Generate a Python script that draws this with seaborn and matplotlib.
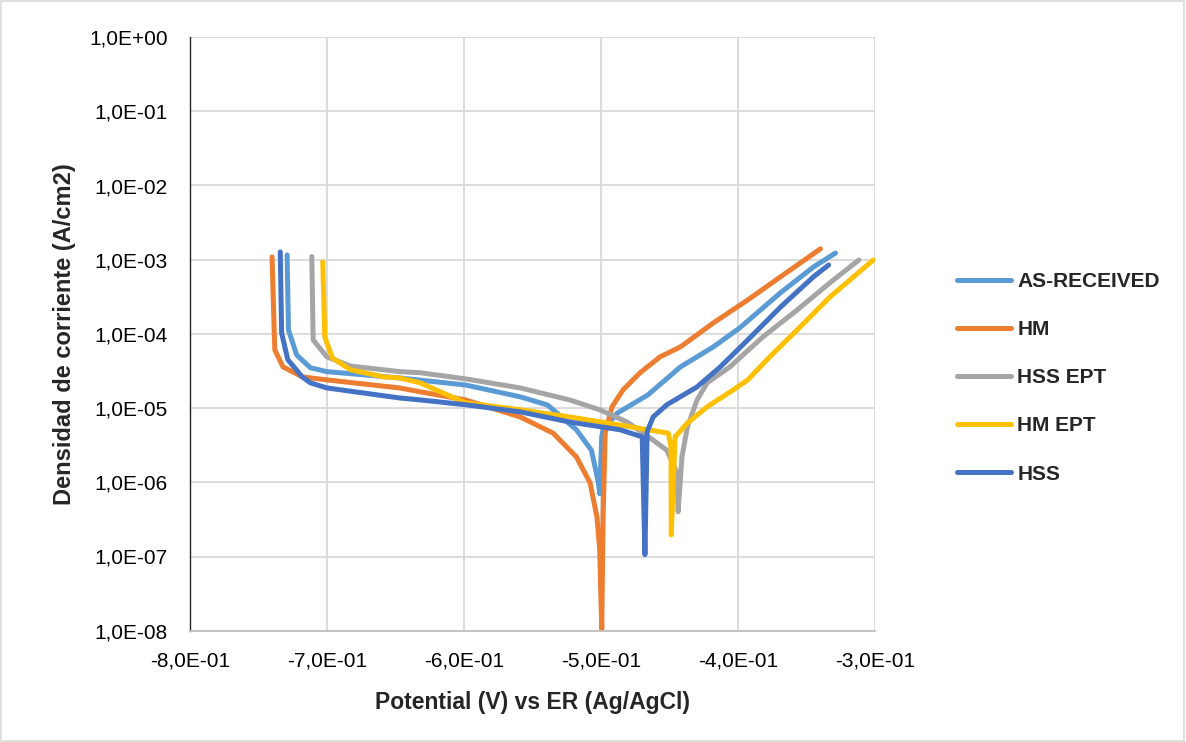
import matplotlib
matplotlib.use("Agg")
import matplotlib.pyplot as plt
from matplotlib.ticker import FuncFormatter, FixedLocator
from matplotlib.patches import Rectangle
import numpy as np
import pandas as pd
import seaborn as sns

sns.set_style("white")
plt.rcParams['font.family'] = ['Liberation Sans', 'DejaVu Sans']

series_names = ["AS-RECEIVED", "HM", "HSS EPT", "HM EPT", "HSS"]
colors = ["#5B9BD5", "#ED7D31", "#A5A5A5", "#FFC000", "#4472C4"]

# potential (V) and current density (A/cm2)
asr_v = [-0.729, -0.728, -0.722, -0.712, -0.700, -0.647, -0.599, -0.559, -0.539, -0.518,
         -0.507, -0.502, -0.501, -0.4995, -0.4985, -0.488, -0.466, -0.442, -0.418, -0.399,
         -0.369, -0.345, -0.329]
asr_i = [1.16e-3, 1.13e-4, 5.2e-5, 3.5e-5, 3.1e-5, 2.55e-5, 2.05e-5, 1.42e-5, 1.1e-5, 5.1e-6,
         2.7e-6, 1.0e-6, 7e-7, 4.1e-6, 5.1e-6, 8.6e-6, 1.5e-5, 3.6e-5, 6.7e-5, 1.2e-4,
         3.6e-4, 8.0e-4, 1.23e-3]

hm_v = [-0.740, -0.738, -0.732, -0.718, -0.700, -0.647, -0.632, -0.599, -0.559, -0.535,
        -0.518, -0.508, -0.503, -0.501, -0.4995, -0.4985, -0.497, -0.492, -0.484, -0.4715,
        -0.457, -0.442, -0.418, -0.393, -0.369, -0.340]
hm_i = [1.09e-3, 6.1e-5, 3.6e-5, 2.64e-5, 2.4e-5, 1.87e-5, 1.66e-5, 1.29e-5, 7.6e-6, 4.6e-6,
        2.2e-6, 9.8e-7, 3.4e-7, 1.23e-7, 1.05e-8, 3.4e-7, 4.6e-6, 1.04e-5, 1.76e-5, 3.0e-5,
        4.9e-5, 6.7e-5, 1.41e-4, 2.87e-4, 5.9e-4, 1.4e-3]

hssept_v = [-0.711, -0.710, -0.700, -0.683, -0.647, -0.632, -0.599, -0.559, -0.523, -0.501,
            -0.481, -0.462, -0.452, -0.4445, -0.4438, -0.441, -0.437, -0.430, -0.4226, -0.406,
            -0.382, -0.357, -0.333, -0.312]
hssept_i = [1.1e-3, 8.3e-5, 4.9e-5, 3.7e-5, 3.1e-5, 3.0e-5, 2.48e-5, 1.87e-5, 1.29e-5, 9.5e-6,
            6.5e-6, 3.7e-6, 2.7e-6, 1.34e-6, 4.0e-7, 2.2e-6, 5.6e-6, 1.29e-5, 2.19e-5, 3.6e-5,
            9.1e-5, 2.1e-4, 4.9e-4, 9.9e-4]

hmept_v = [-0.703, -0.7015, -0.696, -0.683, -0.659, -0.647, -0.632, -0.599, -0.559, -0.523,
           -0.486, -0.451, -0.449, -0.4488, -0.446, -0.437, -0.4226, -0.4036, -0.393, -0.377,
           -0.357, -0.333, -0.3015]
hmept_i = [9.3e-4, 9.1e-5, 4.75e-5, 3.3e-5, 2.64e-5, 2.55e-5, 2.19e-5, 1.18e-5, 9.5e-6, 7.6e-6,
           5.9e-6, 4.6e-6, 3.0e-6, 1.96e-7, 4.1e-6, 6.3e-6, 1.04e-5, 1.76e-5, 2.4e-5, 4.9e-5,
           1.13e-4, 3.15e-4, 9.9e-4]

hss_v = [-0.734, -0.733, -0.7285, -0.718, -0.712, -0.700, -0.647, -0.632, -0.599, -0.559,
         -0.523, -0.486, -0.470, -0.468, -0.4664, -0.462, -0.452, -0.430, -0.413, -0.393,
         -0.369, -0.345, -0.334]
hss_i = [1.27e-3, 1.03e-4, 4.5e-5, 2.64e-5, 2.19e-5, 1.87e-5, 1.37e-5, 1.29e-5, 1.11e-5, 8.9e-6,
         6.5e-6, 5.1e-6, 4.1e-6, 1.06e-7, 4.8e-6, 7.6e-6, 1.11e-5, 1.93e-5, 3.6e-5, 8.3e-5,
         2.31e-4, 5.9e-4, 8.5e-4]

all_v = [asr_v, hm_v, hssept_v, hmept_v, hss_v]
all_i = [asr_i, hm_i, hssept_i, hmept_i, hss_i]

frames = []
for name, v, i in zip(series_names, all_v, all_i):
    frames.append(pd.DataFrame({"Potential": v, "Current": i, "Serie": name}))
df = pd.concat(frames, ignore_index=True)

fig = plt.figure(figsize=(11.86, 7.42), dpi=100)
ax = fig.add_axes([0.160, 0.150, 0.578, 0.800])

sns.lineplot(data=df, x="Potential", y="Current", hue="Serie", hue_order=series_names,
             palette=colors, sort=False, estimator=None, units="Serie",
             linewidth=3.6, ax=ax, legend=False)

ax.set_yscale("log")
ax.set_xlim(-0.8, -0.3)
ax.set_ylim(1e-8, 1e0)
ax.xaxis.set_major_locator(FixedLocator(np.arange(-0.8, -0.29, 0.1)))
ax.yaxis.set_major_locator(FixedLocator([10.0 ** k for k in range(-8, 1)]))
ax.yaxis.set_minor_locator(FixedLocator([]))


def sci_comma(val, pos):
    s = "{:.1E}".format(val)
    return s.replace(".", ",")


ax.xaxis.set_major_formatter(FuncFormatter(sci_comma))
ax.yaxis.set_major_formatter(FuncFormatter(sci_comma))
ax.tick_params(axis="both", labelsize=15, length=0, colors="#000000")
ax.tick_params(axis="y", pad=16)
ax.tick_params(axis="x", pad=15)
ax.grid(True, which="major", color="#D9D9D9", linewidth=1.3)
ax.set_axisbelow(True)
for side in ["top", "right"]:
    ax.spines[side].set_visible(False)
ax.spines["bottom"].set_color("#BFBFBF")
ax.spines["bottom"].set_linewidth(1.3)
ax.spines["left"].set_color("#262626")
ax.spines["left"].set_linewidth(1.0)

ax.set_xlabel("Potential (V) vs ER (Ag/AgCl)", fontsize=16.5, fontweight="bold", labelpad=15)
ax.set_ylabel("Densidad de corriente (A/cm2)", fontsize=17, fontweight="bold", labelpad=9)

handles = [plt.Line2D([0], [0], color=c, linewidth=3.6, solid_capstyle="round") for c in colors]
leg = ax.legend(handles, series_names, loc="center left", bbox_to_anchor=(1.107, 0.426),
                frameon=False, prop={"weight": "bold", "size": 15}, handlelength=2.6,
                handletextpad=0.3, labelspacing=1.4, borderaxespad=0)

fig.patches.append(Rectangle((0.001, 0.001), 0.997, 0.997, transform=fig.transFigure,
                             fill=False, edgecolor="#D9D9D9", linewidth=1.2))

fig.savefig("out.png", dpi=100)
